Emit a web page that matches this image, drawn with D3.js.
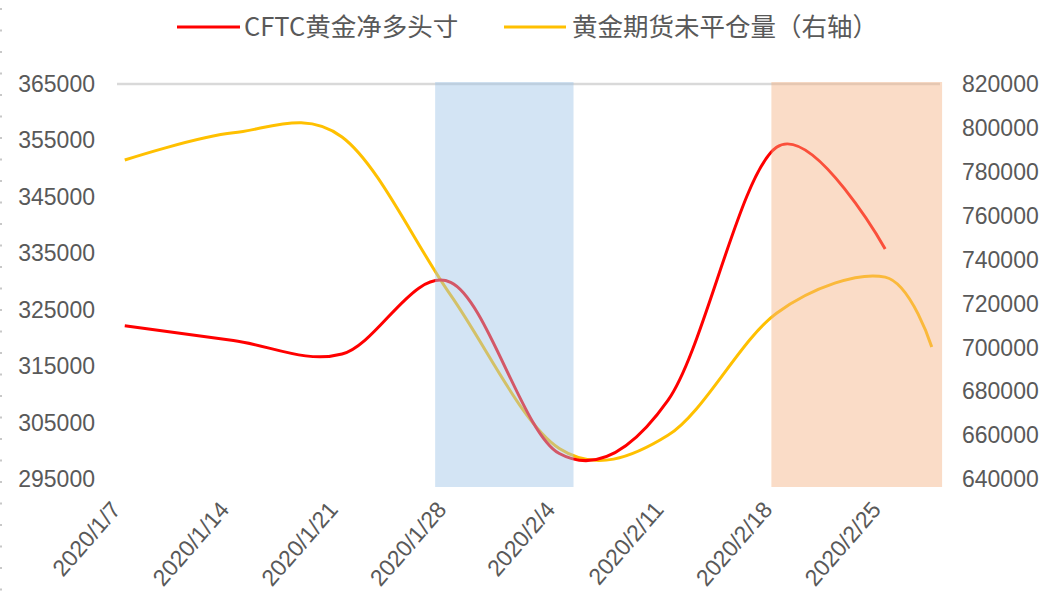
<!DOCTYPE html>
<html>
<head>
<meta charset="utf-8">
<script src="https://cdn.jsdelivr.net/npm/d3@7"></script>
<style>
  html, body { margin: 0; padding: 0; background: #fff; }
  svg { display: block; }
</style>
</head>
<body>
<svg id="chart" width="1046" height="594"></svg>
<script>
// ---- data ----
const cftcDates = ["2020-01-07","2020-01-14","2020-01-21","2020-01-28","2020-02-04","2020-02-11","2020-02-18","2020-02-25"];
const cftcNetLong = [322200, 319600, 317200, 329900, 299600, 309000, 353800, 335800];
const oiDates = ["2020-01-07","2020-01-14","2020-01-21","2020-01-28","2020-02-04","2020-02-11","2020-02-18","2020-02-25","2020-02-28"];
const openInterest = [785400, 797800, 795900, 723900, 654100, 660100, 715700, 732100, 700300];
const xTickDates = ["2020-01-07","2020-01-14","2020-01-21","2020-01-28","2020-02-04","2020-02-11","2020-02-18","2020-02-25"];
const leftTicks = [295000, 305000, 315000, 325000, 335000, 345000, 355000, 365000];
const rightTicks = [640000, 660000, 680000, 700000, 720000, 740000, 760000, 780000, 800000, 820000];
const bandBlue = ["2020-01-27T00:00", "2020-02-04T22:00"];
const bandOrange = ["2020-02-17T16:00", "2020-02-28T16:00"];
const seriesNames = ["CFTC黄金净多头寸", "黄金期货未平仓量（右轴）"];

// ---- layout ----
const svg = d3.select("#chart");
const parse = d3.timeParse("%Y-%m-%d");
const parseT = d3.timeParse("%Y-%m-%dT%H:%M");
const fmt = d => `${d.getFullYear()}/${d.getMonth()+1}/${d.getDate()}`;

const plotTop = 84, plotBottom = 479.5;
const x = d3.scaleTime()
  .domain([parseT("2020-01-06T12:00"), parseT("2020-02-28T12:00")])
  .range([117, 939.5]);
const yL = d3.scaleLinear().domain([295000, 365000]).range([plotBottom, plotTop]);
const yR = d3.scaleLinear().domain([640000, 820000]).range([plotBottom, plotTop]);

const textColor = "#595959";
const axisFont = "'Liberation Sans', Arial, sans-serif";

// left dotted frame edge
svg.append("line").attr("x1", 1).attr("x2", 1).attr("y1", 0).attr("y2", 594)
  .attr("stroke", "#c8c8c8").attr("stroke-width", 2).attr("stroke-dasharray", "2,19.5")
  .attr("stroke-dashoffset", -8);

// top gridline
svg.append("line").attr("x1", 117).attr("x2", 940).attr("y1", yL(365000)).attr("y2", yL(365000))
  .attr("stroke", "#d9d9d9").attr("stroke-width", 2.5);

// lines
const lineL = d3.line().x((d,i) => x(parse(cftcDates[i]))).y(d => yL(d)).curve(d3.curveCatmullRom.alpha(0));
const lineR = d3.line().x((d,i) => x(parse(oiDates[i]))).y(d => yR(d)).curve(d3.curveCatmullRom.alpha(0));

svg.append("path").datum(openInterest).attr("d", lineR)
  .attr("fill", "none").attr("stroke", "#FFC000").attr("stroke-width", 3).attr("stroke-linejoin", "round");
svg.append("path").datum(cftcNetLong).attr("d", lineL)
  .attr("fill", "none").attr("stroke", "#FF0000").attr("stroke-width", 3).attr("stroke-linejoin", "round");

// translucent highlight bands over the lines
svg.append("rect")
  .attr("x", x(parseT(bandBlue[0]))).attr("width", x(parseT(bandBlue[1])) - x(parseT(bandBlue[0])))
  .attr("y", 82).attr("height", 487 - 82)
  .attr("fill", "#9DC3E6").attr("fill-opacity", 0.45);
svg.append("rect")
  .attr("x", x(parseT(bandOrange[0]))).attr("width", x(parseT(bandOrange[1])) - x(parseT(bandOrange[0])))
  .attr("y", 82).attr("height", 487 - 82)
  .attr("fill", "#F4B183").attr("fill-opacity", 0.45);

// left axis
const gL = svg.append("g").attr("transform", "translate(95,0)")
  .call(d3.axisLeft(yL).tickValues(leftTicks).tickSize(0).tickPadding(0).tickFormat(d3.format("d")));
gL.select(".domain").remove();
gL.selectAll("text").attr("font-family", axisFont).attr("font-size", 23).attr("fill", textColor);

// right axis
const gR = svg.append("g").attr("transform", "translate(962,0)")
  .call(d3.axisRight(yR).tickValues(rightTicks).tickSize(0).tickPadding(0).tickFormat(d3.format("d")));
gR.select(".domain").remove();
gR.selectAll("text").attr("font-family", axisFont).attr("font-size", 23).attr("fill", textColor);

// x axis labels (rotated)
const gX = svg.append("g")
  .call(d3.axisBottom(x).tickValues(xTickDates.map(parse)).tickSize(0).tickFormat(fmt));
gX.select(".domain").remove();
gX.selectAll(".tick").attr("transform", d => `translate(${x(d)},0)`);
gX.selectAll("text")
  .attr("font-family", axisFont).attr("font-size", 23).attr("fill", textColor)
  .attr("text-anchor", "end").attr("y", 0).attr("dy", "0.35em")
  .attr("transform", "translate(-9,505) rotate(-49)");

// legend
const legend = [
  {name: seriesNames[0], color: "#FF0000", x1: 177, x2: 240, tx: 244},
  {name: seriesNames[1], color: "#FFC000", x1: 504, x2: 566, tx: 572}
];
const gLeg = svg.append("g");
legend.forEach(l => {
  gLeg.append("line").attr("x1", l.x1).attr("x2", l.x2).attr("y1", 27).attr("y2", 27)
    .attr("stroke", l.color).attr("stroke-width", 3);
  gLeg.append("text").attr("x", l.tx).attr("y", 27).attr("dy", "0.35em")
    .attr("font-family", "'Noto Sans CJK SC', sans-serif").attr("font-size", 25.5)
    .attr("fill", textColor).text(l.name);
});
</script>
</body>
</html>
